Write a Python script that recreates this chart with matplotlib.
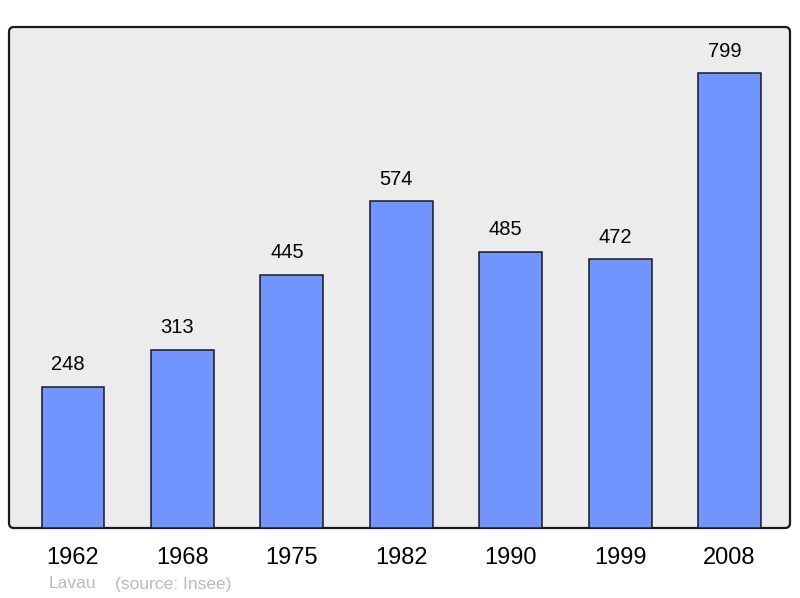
import matplotlib.pyplot as plt
from matplotlib.patches import FancyBboxPatch

plt.rcParams['font.family'] = ['Liberation Sans', 'DejaVu Sans']

# données
years = ["1962", "1968", "1975", "1982", "1990", "1999", "2008"]
population = [248, 313, 445, 574, 485, 472, 799]
commune = "Lavau"
source = "(source: Insee)"

BAR_COLOR = "#7095ff"
BG_COLOR = "#ececec"

fig = plt.figure(figsize=(8, 5.98), dpi=100)
ax = fig.add_axes([9 / 800, 70 / 598, 781 / 800, 501 / 598])
ax.patch.set_visible(False)
for s in ax.spines.values():
    s.set_visible(False)

# cadre arrondi (coordonnées pixels)
frame = FancyBboxPatch((9, 70), 781, 501, boxstyle="round,pad=0,rounding_size=5",
                       transform=None, facecolor=BG_COLOR, edgecolor="#1a1a1a",
                       linewidth=1.6, zorder=0, clip_on=False)
ax.add_patch(frame)

x = range(len(years))
bars = ax.bar(x, population, width=0.575, color=BAR_COLOR, edgecolor="#1a1a1a",
              linewidth=1.1, zorder=2)
for b, v in zip(bars, population):
    ax.annotate(str(v), (b.get_x() + b.get_width() / 2, v), xytext=(-3.6, 15.8),
                textcoords="offset points", ha="center", va="center", fontsize=14.5)

ax.set_xlim(-0.585, 6.553)
ax.set_ylim(0, 880)
ax.set_xticks(list(x))
ax.set_xticklabels(years, fontsize=17)
ax.tick_params(axis="x", length=0, pad=14)
ax.set_yticks([])

fig.text(49 / 800, 1 - 584 / 598, commune, fontsize=12.5,
         color="#bbbbbb", va="center", ha="left")
fig.text(115 / 800, 1 - 584 / 598, source, fontsize=12.5,
         color="#bbbbbb", va="center", ha="left")

fig.savefig("out.png", dpi=100)
